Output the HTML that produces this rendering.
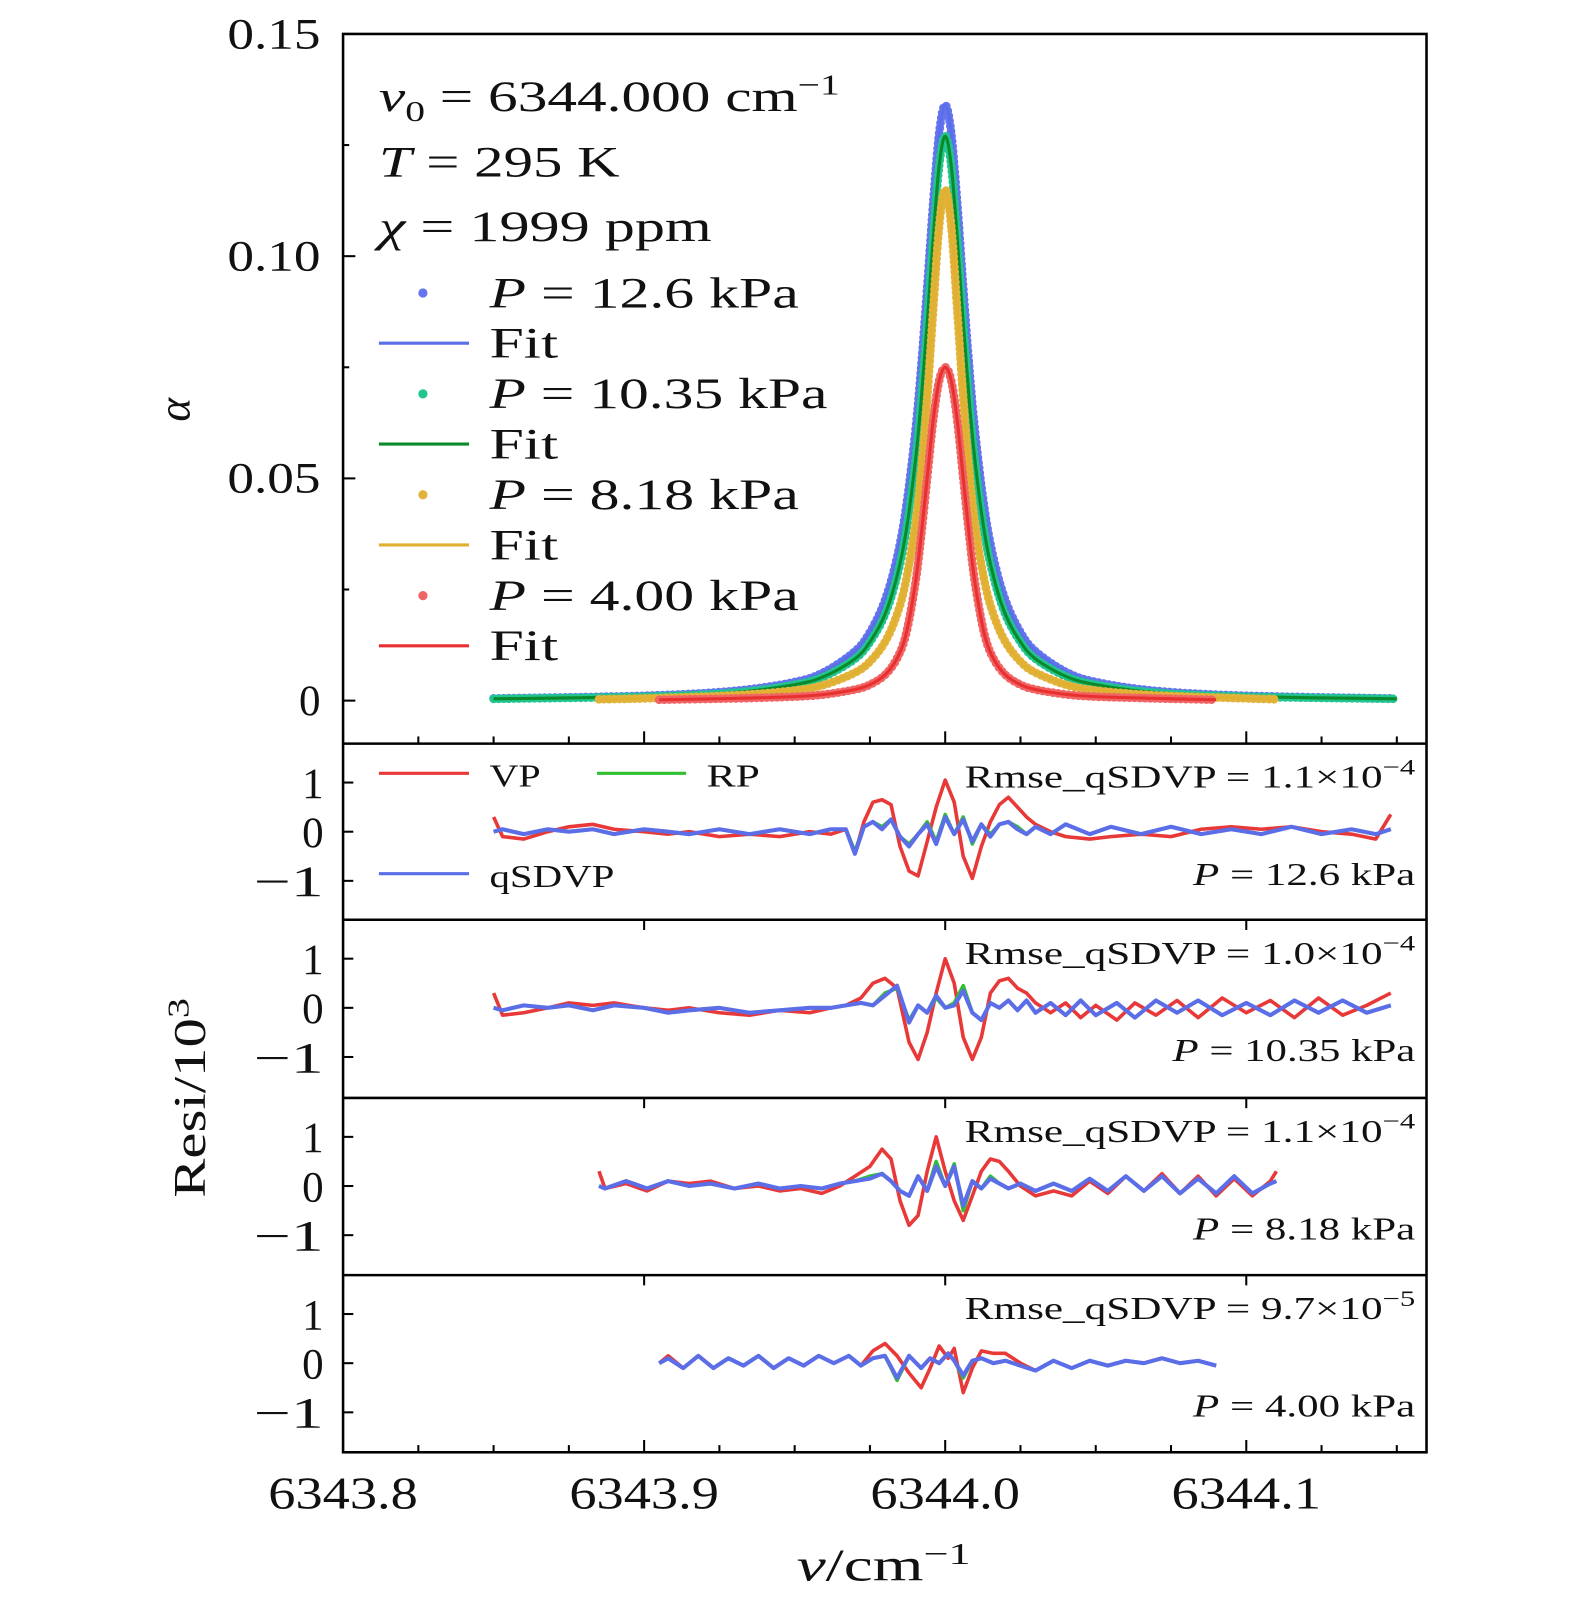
<!DOCTYPE html>
<html><head><meta charset="utf-8"><style>
body{margin:0;background:#fff}
svg{display:block}
text{font-family:"Liberation Serif","DejaVu Serif",serif;fill:#111}
</style></head><body>
<svg id="chart" width="1575" height="1604" viewBox="0 0 1538 1566" xmlns="http://www.w3.org/2000/svg">
<g id="marks"></g>
<g id="frame"></g>
<g font-size="42">
<text x="370" y="108" font-size="42" textLength="450" lengthAdjust="spacingAndGlyphs"><tspan font-style="italic">ν</tspan><tspan font-size="28" dy="10">0</tspan><tspan dy="-10"> = 6344.000 cm</tspan><tspan font-size="28" dy="-16">−1</tspan></text>
<text x="370" y="172" font-size="42" textLength="235" lengthAdjust="spacingAndGlyphs"><tspan font-style="italic">T</tspan> = 295 K</text>
<text x="370" y="235" font-size="42" textLength="325" lengthAdjust="spacingAndGlyphs"><tspan font-style="italic">χ</tspan> = 1999 ppm</text>
</g>
<g id="legend" font-size="40"></g>
<g font-size="31">
<line x1="370" y1="755" x2="458" y2="755" stroke="#e83838" stroke-width="3"/><text x="478" y="768" textLength="50" lengthAdjust="spacingAndGlyphs">VP</text>
<line x1="583" y1="755" x2="670" y2="755" stroke="#30c030" stroke-width="3"/><text x="690" y="768" textLength="52" lengthAdjust="spacingAndGlyphs">RP</text>
<line x1="370" y1="853" x2="458" y2="853" stroke="#5b6ee8" stroke-width="3"/><text x="478" y="866" textLength="122" lengthAdjust="spacingAndGlyphs">qSDVP</text>
</g>
<text font-size="44" font-style="italic" transform="translate(185,400) rotate(-90)" text-anchor="middle">α</text>
<text font-size="44" transform="translate(200,1072) rotate(-90)" text-anchor="middle" textLength="195" lengthAdjust="spacingAndGlyphs">Resi/10<tspan font-size="30" dy="-16">3</tspan></text>
<text font-size="44" x="863" y="1543" text-anchor="middle" textLength="170" lengthAdjust="spacingAndGlyphs"><tspan font-style="italic">ν</tspan>/cm<tspan font-size="30" dy="-16">−1</tspan></text>
</svg>
<script>
// ---------- data ----------
const xTicks = [6343.8, 6343.9, 6344.0, 6344.1];
const xTickLabels = ["6343.8", "6343.9", "6344.0", "6344.1"];
const yTicksTop = [0, 0.05, 0.10, 0.15];
const yTickLabelsTop = ["0", "0.05", "0.10", "0.15"];
const resiTicks = [1, 0, -1];
const resiTickLabels = ["1", "0", "−1"];
// one-sided offsets from line centre (cm^-1), profiles are symmetric
const profileOffsets = [0, 0.002, 0.004, 0.006, 0.008, 0.010, 0.013, 0.016, 0.020, 0.025, 0.030, 0.040, 0.050, 0.070, 0.100, 0.150];
const alpha126 = [0.134, 0.1277, 0.1119, 0.0928, 0.0749, 0.0600, 0.0434, 0.0322, 0.0226, 0.0154, 0.0111, 0.0065, 0.0042, 0.0022, 0.0011, 0.0005];
const alpha1035 = [0.127, 0.1204, 0.104, 0.0848, 0.0673, 0.0533, 0.0380, 0.0280, 0.0194, 0.0132, 0.0094, 0.0055, 0.0036, 0.0018, 0.0009, 0.0004];
const alpha818 = [0.115, 0.1068, 0.0879, 0.0679, 0.0515, 0.0393, 0.0270, 0.0194, 0.0132, 0.0088, 0.0063, 0.0036, 0.0023, 0.0012, 0.0005, 0.0003];
const alpha400 = [0.075, 0.072, 0.063, 0.050, 0.037, 0.026, 0.015, 0.0095, 0.0058, 0.0036, 0.0025, 0.0014, 0.0009, 0.0005, 0.0002, 0.0001];
const profileRanges = [[-0.150, 0.148], [-0.150, 0.150], [-0.115, 0.110], [-0.095, 0.090]];
const pressureLabels = ["12.6", "10.35", "8.18", "4.00"];
const rmseLabels = [["1.1", "−4"], ["1.0", "−4"], ["1.1", "−4"], ["9.7", "−5"]];

// residual panels: x in thousandths of cm^-1 from 6344.000
const resX1 = [-150,-147,-140,-132,-125,-117,-110,-100,-92,-85,-75,-65,-55,-45,-38,-33,-30,-27,-24,-21,-18,-15,-12,-9,-6,-3,0,3,6,9,12,15,18,21,24,27,30,35,40,48,55,65,75,85,95,105,115,125,135,143,148];
const resVP1 = [0.3,-0.1,-0.15,0.0,0.1,0.15,0.05,0.0,-0.05,0.0,-0.1,-0.05,-0.1,0.0,-0.05,0.05,-0.45,0.2,0.6,0.65,0.55,-0.3,-0.8,-0.9,-0.2,0.5,1.05,0.6,-0.5,-0.95,-0.3,0.2,0.55,0.7,0.5,0.3,0.15,0.0,-0.1,-0.15,-0.1,-0.05,-0.1,0.05,0.1,0.05,0.1,0.0,-0.05,-0.15,0.35];
const resRP1 = [0,0.05,-0.05,0.05,0,0.05,-0.05,0.05,0,-0.05,0.05,-0.05,0.05,-0.05,0.05,0.05,-0.4,0.1,0.2,0.1,0.25,-0.1,-0.25,-0.05,0.2,-0.2,0.35,-0.05,0.3,-0.25,0.15,-0.05,0.15,0.2,0.1,-0.05,0.1,-0.05,0.15,-0.05,0.1,-0.05,0.1,-0.05,0.05,-0.05,0.1,-0.05,0.05,-0.05,0.05];
const resQS1 = [0,0.05,-0.05,0.05,0,0.05,-0.05,0.05,0,-0.05,0.05,-0.05,0.05,-0.05,0.05,0.05,-0.45,0.1,0.2,0.05,0.25,-0.1,-0.3,-0.05,0.15,-0.25,0.3,-0.05,0.25,-0.2,0.15,-0.1,0.15,0.2,0.05,-0.05,0.1,-0.05,0.15,-0.05,0.1,-0.05,0.1,-0.05,0.05,-0.05,0.1,-0.05,0.05,-0.05,0.05];

const resX2 = [-150,-147,-140,-132,-125,-117,-110,-100,-92,-85,-75,-65,-55,-45,-38,-33,-28,-24,-20,-16,-12,-9,-6,-3,0,3,6,9,12,15,18,21,24,27,30,35,40,45,50,57,63,70,77,84,92,100,108,116,124,132,140,148];
const resVP2 = [0.3,-0.15,-0.1,0.0,0.1,0.05,0.1,0.0,-0.05,0.0,-0.1,-0.15,-0.05,-0.1,0.0,0.05,0.2,0.5,0.6,0.4,-0.7,-1.05,-0.5,0.3,1.0,0.5,-0.6,-1.05,-0.6,0.3,0.55,0.6,0.4,0.3,0.1,-0.1,0.1,-0.2,0.05,-0.25,0.1,-0.15,0.15,-0.2,0.2,-0.1,0.15,-0.2,0.2,-0.15,0.05,0.3];
const resRP2 = [0.0,-0.05,0.05,0.0,0.05,-0.05,0.05,0.0,-0.1,-0.05,0.0,-0.1,-0.05,0.0,0.0,0.05,0.1,0.05,0.3,0.4,-0.25,0.05,-0.1,0.2,0.0,0.1,0.45,-0.1,-0.25,0.1,0.0,0.15,-0.05,0.15,-0.1,0.1,-0.15,0.15,-0.15,0.1,-0.2,0.15,-0.1,0.15,-0.15,0.1,-0.15,0.15,-0.1,0.15,-0.1,0.05];
const resQS2 = [0.0,-0.05,0.05,0.0,0.05,-0.05,0.05,0.0,-0.1,-0.05,0.0,-0.1,-0.05,0.0,0.0,0.05,0.1,0.05,0.25,0.45,-0.3,0.05,-0.1,0.25,0.0,0.05,0.35,-0.1,-0.25,0.1,0.0,0.15,-0.05,0.15,-0.1,0.1,-0.15,0.15,-0.15,0.1,-0.2,0.15,-0.1,0.15,-0.15,0.1,-0.15,0.15,-0.1,0.15,-0.1,0.05];

const resX3 = [-115,-113,-106,-99,-92,-85,-78,-70,-62,-55,-48,-41,-35,-30,-25,-21,-18,-15,-12,-9,-6,-3,0,3,6,9,12,15,18,21,25,30,36,42,48,54,60,66,72,78,84,90,96,102,108,110];
const resVP3 = [0.3,-0.05,0.05,-0.1,0.1,0.05,0.1,-0.05,0.0,-0.1,-0.05,-0.15,0.0,0.2,0.4,0.75,0.55,-0.3,-0.8,-0.6,0.3,1.0,0.3,-0.3,-0.7,-0.2,0.3,0.55,0.5,0.3,0.0,-0.2,-0.1,-0.2,0.1,-0.15,0.2,-0.1,0.25,-0.15,0.2,-0.2,0.15,-0.2,0.1,0.3];
const resRP3 = [0.0,-0.05,0.1,-0.05,0.1,0.0,0.05,-0.05,0.05,-0.05,0.0,-0.05,0.05,0.1,0.2,0.25,0.1,-0.1,-0.2,0.2,-0.1,0.5,0.0,0.45,-0.5,0.1,-0.05,0.2,0.05,-0.05,0.05,-0.1,0.05,-0.1,0.15,-0.1,0.2,-0.1,0.2,-0.15,0.15,-0.15,0.2,-0.15,0.05,0.1];
const resQS3 = [0.0,-0.05,0.1,-0.05,0.1,0.0,0.05,-0.05,0.05,-0.05,0.0,-0.05,0.05,0.1,0.15,0.25,0.1,-0.1,-0.2,0.2,-0.1,0.4,0.0,0.4,-0.4,0.1,-0.05,0.15,0.05,-0.05,0.05,-0.1,0.05,-0.1,0.15,-0.1,0.2,-0.1,0.2,-0.15,0.15,-0.15,0.2,-0.15,0.05,0.1];

const resX4 = [-95,-92,-87,-82,-77,-72,-67,-62,-57,-52,-47,-42,-37,-32,-28,-24,-20,-16,-12,-8,-5,-2,1,3,6,9,12,16,20,25,30,36,42,48,54,60,66,72,78,84,90];
const resVP4 = [0.0,0.15,-0.1,0.15,-0.1,0.1,-0.05,0.15,-0.1,0.1,-0.05,0.15,0.0,0.15,-0.05,0.25,0.4,0.15,-0.2,-0.5,-0.1,0.35,0.1,0.3,-0.6,-0.1,0.25,0.2,0.2,0.0,-0.15,0.05,-0.1,0.05,-0.05,0.05,0.0,0.1,0.0,0.05,-0.05];
const resRP4 = [0.0,0.1,-0.1,0.15,-0.1,0.1,-0.05,0.15,-0.1,0.1,-0.05,0.15,0.0,0.15,-0.05,0.1,0.15,-0.35,0.15,-0.1,0.1,0.0,0.2,0.05,-0.3,0.05,0.1,0.0,0.05,-0.05,-0.15,0.05,-0.1,0.05,-0.05,0.05,0.0,0.1,0.0,0.05,-0.05];
const resQS4 = [0.0,0.1,-0.1,0.15,-0.1,0.1,-0.05,0.15,-0.1,0.1,-0.05,0.15,0.0,0.15,-0.05,0.1,0.15,-0.3,0.15,-0.1,0.1,0.0,0.2,0.05,-0.25,0.05,0.1,0.0,0.05,-0.05,-0.15,0.05,-0.1,0.05,-0.05,0.05,0.0,0.1,0.0,0.05,-0.05];

// ---------- layout ----------
const NS = "http://www.w3.org/2000/svg";
const L = 335, R = 1393, TOP = 33, TOPB = 726;
const panels = [[726, 898], [898, 1072], [1072, 1245], [1245, 1418]];
const xS = v => L + (v - 6343.8) / 0.1 * 294;
const yTop = v => 684 - v / 0.05 * 217;
const yRes = (p, v) => panels[p][0] + 86 - v * 48;
const marks = document.getElementById('marks');
const frame = document.getElementById('frame');
function mk(tag, attrs, parent) {
  const e = document.createElementNS(NS, tag);
  for (const k in attrs) e.setAttribute(k, attrs[k]);
  parent.appendChild(e);
  return e;
}

// ---------- top profiles ----------
const series = [
  {vals: alpha126, dot: "#6474ee", line: "#5b6ee8", name: "12.6"},
  {vals: alpha1035, dot: "#22c490", line: "#0a8a2a", name: "10.35"},
  {vals: alpha818, dot: "#e3b23a", line: "#e0b030", name: "8.18"},
  {vals: alpha400, dot: "#f06464", line: "#e83030", name: "4.00"}
];
function profilePoints(s, idx) {
  const [lo, hi] = profileRanges[idx];
  const pts = [];
  for (let i = profileOffsets.length - 1; i >= 0; i--) {
    const o = -profileOffsets[i];
    if (o >= lo - 1e-9) pts.push([6344 + o, s.vals[i]]);
    else if (i > 0 && -profileOffsets[i - 1] > lo) pts.push([6344 + lo, s.vals[i]]);
  }
  for (let i = 1; i < profileOffsets.length; i++) {
    const o = profileOffsets[i];
    if (o <= hi + 1e-9) pts.push([6344 + o, s.vals[i]]);
    else if (profileOffsets[i - 1] < hi) { pts.push([6344 + hi, s.vals[i]]); }
  }
  return pts;
}
function smoothPath(pts) {
  const P = pts.map(p => [xS(p[0]), yTop(p[1])]);
  let d = "M" + P[0][0] + "," + P[0][1];
  for (let i = 0; i < P.length - 1; i++) {
    const p0 = P[Math.max(0, i - 1)], p1 = P[i], p2 = P[i + 1], p3 = P[Math.min(P.length - 1, i + 2)];
    const c1 = [p1[0] + (p2[0] - p0[0]) / 6, p1[1] + (p2[1] - p0[1]) / 6];
    const c2 = [p2[0] - (p3[0] - p1[0]) / 6, p2[1] - (p3[1] - p1[1]) / 6];
    d += " C" + c1 + " " + c2 + " " + p2;
  }
  return d;
}
series.forEach((s, idx) => {
  const d = smoothPath(profilePoints(s, idx));
  const dots = mk('path', {d: d, fill: 'none', stroke: s.dot, 'stroke-width': 8.5, 'stroke-linecap': 'round', 'stroke-dasharray': '0 5'}, marks);
  
  
  const fl = mk('path', {d: d, fill: 'none', stroke: s.line, 'stroke-width': 3}, marks);
  
  
});

// ---------- residuals ----------
const resSets = [
  [resX1, resVP1, resRP1, resQS1],
  [resX2, resVP2, resRP2, resQS2],
  [resX3, resVP3, resRP3, resQS3],
  [resX4, resVP4, resRP4, resQS4]
];
const resColors = ["#e83838", "#30c030", "#5b6ee8"];
const resNames = ["vp", "rp", "qsdvp"];
const pLens = [217, 237, 217, 217];
resSets.forEach((set, p) => {
  for (let k = 0; k < 3; k++) {
    const xs = set[0], vs = set[k + 1];
    let d = "";
    xs.forEach((x, i) => { d += (i ? " L" : "M") + xS(6344 + x / 1000).toFixed(1) + "," + yRes(p, vs[i]).toFixed(1); });
    const pl = mk('path', {d: d, fill: 'none', stroke: resColors[k], 'stroke-width': k === 2 ? 4 : 3.5, 'stroke-linejoin': 'round'}, marks);
    
    
  }
  const t1 = mk('text', {x: 942, y: panels[p][0] + 43, 'font-size': 31, textLength: 440, lengthAdjust: 'spacingAndGlyphs'}, frame);
  t1.innerHTML = 'Rmse_qSDVP = ' + rmseLabels[p][0] + '×10<tspan font-size="22" dy="-13">' + rmseLabels[p][1] + '</tspan>';
  
  
  const t2 = mk('text', {x: 1382 - pLens[p], y: panels[p][0] + 138, 'font-size': 31, textLength: pLens[p], lengthAdjust: 'spacingAndGlyphs'}, frame);
  t2.innerHTML = '<tspan font-style="italic">P</tspan> = ' + pressureLabels[p] + ' kPa';
  
  
  resiTicks.forEach((v, i) => {
    const y = yRes(p, v);
    mk('line', {x1: L, y1: y, x2: L + 10, y2: y, stroke: '#000', 'stroke-width': 2}, frame);
    const tl = mk('text', {x: 316, y: y + 15, 'text-anchor': 'end', 'font-size': 42}, frame);
    tl.textContent = resiTickLabels[i];
    if (i === 2) { tl.setAttribute('textLength', 68); tl.setAttribute('lengthAdjust', 'spacingAndGlyphs'); }
    
    
  });
  xTicks.forEach(v => {
    if (p > 0) mk('line', {x1: xS(v), y1: panels[p][0], x2: xS(v), y2: panels[p][0] + 10, stroke: '#000', 'stroke-width': 2}, frame);
  });
});

// ---------- frame / axes ----------
const box = mk('rect', {x: L, y: TOP, width: R - L, height: 1418 - TOP, fill: 'none', stroke: '#000', 'stroke-width': 2.5}, frame);


panels.forEach(pn => mk('line', {x1: L, y1: pn[0], x2: R, y2: pn[0], stroke: '#000', 'stroke-width': 2.5}, frame));
yTicksTop.forEach((v, i) => {
  const y = yTop(v);
  mk('line', {x1: L, y1: y, x2: L + 12, y2: y, stroke: '#000', 'stroke-width': 2}, frame);
  const tl = mk('text', {x: 313, y: y + 14, 'text-anchor': 'end', 'font-size': 42}, frame);
  tl.textContent = yTickLabelsTop[i];
  if (yTickLabelsTop[i].length > 1) { tl.setAttribute('textLength', 91); tl.setAttribute('lengthAdjust', 'spacingAndGlyphs'); }
  
  
  if (i < yTicksTop.length - 1) mk('line', {x1: L, y1: yTop(v + 0.025), x2: L + 6, y2: yTop(v + 0.025), stroke: '#000', 'stroke-width': 2}, frame);
});
for (let k = 0; k <= 14; k++) {
  const v = 6343.8 + k * 0.025;
  const major = k % 4 === 0;
  const x = xS(v);
  if (x > R) break;
  mk('line', {x1: x, y1: TOPB, x2: x, y2: TOPB - (major ? 12 : 7), stroke: '#000', 'stroke-width': 2}, frame);
  mk('line', {x1: x, y1: 1418, x2: x, y2: 1418 - (major ? 12 : 7), stroke: '#000', 'stroke-width': 2}, frame);
}
xTicks.forEach((v, i) => {
  const tl = mk('text', {x: xS(v) - 73, y: 1473, 'font-size': 44, textLength: 146, lengthAdjust: 'spacingAndGlyphs'}, frame);
  tl.textContent = xTickLabels[i];
  
  
});

// ---------- top legend ----------
const legend = document.getElementById('legend');
const legLens = [302, 330, 302, 302];
series.forEach((s, i) => {
  const yd = 286 + i * 98.5, yf = yd + 49;
  mk('circle', {cx: 413, cy: yd, r: 4.5, fill: s.dot}, legend);
  const t = mk('text', {x: 478, y: yd + 14, 'font-size': 42, textLength: legLens[i], lengthAdjust: 'spacingAndGlyphs'}, legend);
  t.innerHTML = '<tspan font-style="italic">P</tspan> = ' + s.name + ' kPa';
  
  
  mk('line', {x1: 370, y1: yf, x2: 458, y2: yf, stroke: s.line, 'stroke-width': 3}, legend);
  const tf = mk('text', {x: 478, y: yf + 14, 'font-size': 42, textLength: 67, lengthAdjust: 'spacingAndGlyphs'}, legend);
  tf.textContent = 'Fit';
  
  
});
</script>
</body></html>
